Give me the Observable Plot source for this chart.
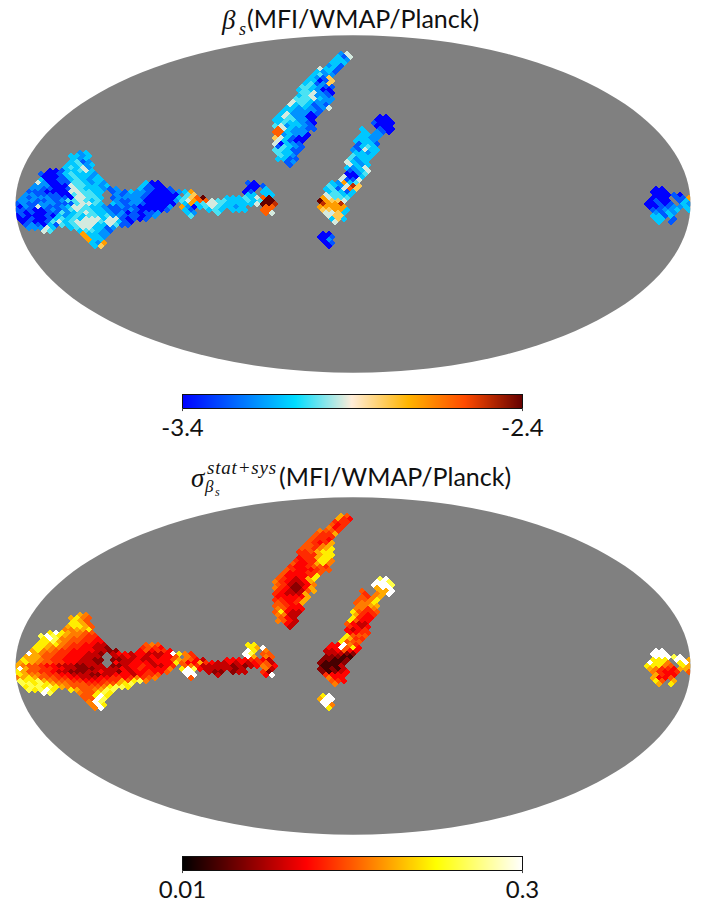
<!DOCTYPE html>
<html>
<head>
<meta charset="utf-8">
<script src="https://cdn.jsdelivr.net/npm/d3@7"></script>
<script src="https://cdn.jsdelivr.net/npm/@observablehq/plot@0.6"></script>
<style>
html,body{margin:0;padding:0;background:#fff;width:707px;height:902px;overflow:hidden}
#page{position:relative;width:707px;height:902px;font-family:Lato,"Noto Sans",sans-serif;color:#111}
#page svg{position:absolute;background:transparent}
.title{position:absolute;font-size:25px;line-height:30px;white-space:nowrap}
.s{position:absolute;font-family:"Liberation Serif",serif;font-style:italic;line-height:1;white-space:nowrap}
</style>
</head>
<body>
<div id="page">
  <span class="s" style="left:222px;top:7px;font-size:27px">β</span>
  <span class="s" style="left:239px;top:20px;font-size:18px">s</span>
  <div class="title" style="left:247px;top:3px">(MFI/WMAP/Planck)</div>
  <div class="title" style="left:279px;top:461px">(MFI/WMAP/Planck)</div>
  <span class="s" style="left:191px;top:465px;font-size:27px">σ</span>
  <span class="s" style="left:207px;top:458px;font-size:19px;letter-spacing:.8px">stat+sys</span>
  <span class="s" style="left:205px;top:478px;font-size:17px">β</span>
  <span class="s" style="left:215px;top:486px;font-size:12px">s</span>
</div>
<script>
// Sky cells: [ring, column, beta codes, sigma codes]
const mainBlob = [
[17,-46,"23","76"],[16,-47,"3323","7865"],[15,-47,"323","875"],[14,-47,"3412","8875"],
[13,-48,"33423","78875"],[12,-48,"34352","66778"],[11,-51,"00133453","8a876655"],
[10,-52,"1001343332","9a98766544"],[9,-52,"0001343323","8a96655443"],
[8,-52,"30011343233","88976554433"],[7,-53,"520011443232","887865443322"],[7,-35,"300","565"],
[6,-53,"2220005443323","8876654433221"],[6,-35,"3100","4543"],
[5,-54,"221100154333212","786654433332211"],[5,-36,"311001","353443"],
[4,-54,"1110000554433","a765544333221"],[4,-40,"121322100012","2332332223a8"],
[3,-55,"2211110045443","7775544333222"],[3,-40,"21222100000","22323232335"],
[2,-55,"21222111055443","87765443332211"],[2,-40,"122221000003","112232233357"],
[1,-56,"22211212445434","78765544332221"],[1,-40,"2112200000","3223332333"],[1,-30,"24","85"],
[0,-56,"121122211145543","765543322211222"],[0,-40,"32122100000","11233432234"],
[-1,-56,"02152112355433211211000002","a7554433221112222323433336"],
[-2,-56,"11100121245443321112100001","87554432211122322132334335"],
[-3,-56,"101001142345433212010112","876654433222112233323445"],
[-4,-56,"010001032343443422111012","678755544332223344346456"],
[-5,-56,"0010013434355535510101","9889765554433344475896"],
[-6,-55,"0100145345555455310","9989876655544455789"],
[-7,-55,"121031434555335411","899898765555568998"],
[-8,-54,"22253","989a8"],[-8,-47,"34553312","87556799"],
[-9,-52,"54","a9"],[-9,-46,"344321","655898"],
[-10,-45,"73322","558a8"],[-11,-45,"7332","55a9"],[-12,-44,"733","6a9"],
[-13,-44,"327","6a8"],[-14,-43,"36","6a"]
];
const tail = [
[7,-18,"10","88"],[6,-17,"001","87a"],[5,-18,"00","a8"],[5,-15,"3","6"],
[4,-28,"37","64"],[4,-18,"01","a9"],[4,-15,"33","55"],
[3,-28,"46","64"],[3,-18,"33","a7"],[3,-15,"33","65"],
[2,-28,"468a","6532"],[2,-21,"3334358a","33334432"],
[1,-28,"5788544333434aa","337432232323452"],
[0,-28,"3734554333335aa9","5642222212123653"],
[-1,-29,"72034543323","8a932222212"],[-1,-15,"88","62"],
[-2,-28,"31","aa"],[-2,-24,"343","211"],[-2,-20,"333","122"],[-2,-15,"88","41"],
[-3,-28,"32","aa"],[-3,-23,"4","2"],[-3,-15,"85","3a"],[-4,-27,"4","5"]
];
const northStreak = [
[50,-2,"25","75"],[49,-3,"315","743"],[48,-3,"332","444"],[47,-4,"333","534"],[46,-4,"231","634"],
[45,-6,"5331","6554"],[44,-6,"3231","5447"],[43,-7,"3422","5444"],[42,-7,"3216","5443"],
[41,-8,"33016","54347"],[40,-8,"34126","55467"],[39,-9,"443211","554678"],[38,-9,"343200","445788"],
[37,-9,"445210","444788"],[36,-9,"345221","344788"],[35,-10,"4445322","4344886"],
[34,-10,"5443222","5334786"],[33,-11,"5343121","4334554"],[32,-11,"33232125","54333455"],
[31,-12,"3322221","5333445"],[30,-12,"3522201","5333348"],[29,-13,"3542200","5432378"],
[28,-13,"3344220","6432237"],[27,-13,"3433210","5421236"],[26,-13,"4523321","6431137"],
[25,-13,"8532211","4321257"],[24,-13,"883222","432227"],[23,-13,"823220","333337"],
[22,-13,"653100","443347"],[21,-13,"53100","54347"],[20,-13,"50321","55433"],
[19,-13,"14321","65333"],[18,-13,"44311","58322"],[17,-13,"4331","6622"],[16,-12,"432","532"],
[15,-13,"3311","6532"],[14,-11,"12","32"],[13,-11,"1","2"]
];
const southStreak = [
[29,4,"00","9a"],[28,4,"000","aa9"],[27,3,"1000","aaa9"],[26,4,"000","7aa"],
[25,1,"3","5"],[25,4,"100","77a"],[24,2,"3","4"],[24,4,"210","67a"],
[23,1,"3322","5467"],[22,1,"3322","5568"],[21,0,"3332","5668"],[20,1,"1331","6677"],
[19,0,"1343","6646"],[18,0,"21533","85445"],[17,0,"3323","7434"],[16,0,"4333","8433"],
[15,-1,"4233","8533"],[14,-1,"5323","5322"],[13,-1,"5323","4323"],[12,-1,"3235","3234"],
[11,-1,"1235","3344"],[10,-1,"0024","8555"],[9,-2,"5003","8744"],[8,-2,"5115","8555"],
[7,-4,"32734","33a64"],[6,-4,"432596","33a583"],[5,-5,"341586","223533"],[4,-4,"34313","22211"],
[3,-5,"54433","11100"],[2,-5,"75444","11001"],[1,-6,"a7665","10001"],[0,-5,"9779","0002"],
[-1,-6,"77777","10102"],[-2,-5,"66773","10123"],[-3,-5,"5563","4333"],[-4,-4,"566","633"],
[-5,-4,"363","543"],[-6,-3,"5","6"]
];
const southKnot = [
[-10,-5,"00","8a"],[-11,-6,"001","7aa"],[-12,-5,"02","aa"],[-13,-5,"01","a6"],[-14,-4,"0","8"]
];
const eastPatch = [
[5,50,"00","aa"],[4,50,"000","aaa"],[3,50,"000","aaa"],[3,53,"10","9a"],
[2,50,"000","888"],[2,54,"11","aa"],[2,56,"7","7"],[1,49,"0100","a886"],[1,54,"13","8a"],
[0,49,"00101","88865"],[0,55,"32","87"],[-1,49,"00112","76443"],[-1,54,"23","77"],
[-2,50,"11223","64334"],[-2,56,"3","5"],[-3,50,"2132","7433"],[-4,50,"3313","7335"],
[-5,50,"33","85"],[-5,53,"1","7"],[-6,51,"3","7"],[-6,53,"1","8"],[-6,56,"1","7"]
];
const regions = [mainBlob, tail, northStreak, southStreak, southKnot, eastPatch];

// Value read for each code
const betaLevels = [-3.4,-3.27,-3.18,-3.1,-3.02,-2.93,-2.8,-2.7,-2.6,-2.5,-2.4];
const sigmaLevels = [0.014,0.0197,0.026,0.035,0.0431,0.053,0.0651,0.0822,0.116,0.162,0.3];

const betaDomain = [-3.4,-2.4];
const sigmaDomain = [0.01,0.3];
const betaStops = [0,0.332,0.498,0.664,0.83,1];
const betaColors = ["#0000ff","#00ddff","#ffedd9","#ffb400","#ff4b00","#640000"];
const sigmaStops = [0,0.365,0.746,1];
const sigmaColors = ["#000000","#ff0000","#ffff00","#ffffff"];

const gray = "#808080";
const scale = 119.32, W = 707, H = 358;
const pxPerCol = 6, pxPerRing = 3;

function mollweideRaw(l, p) {
  if (Math.abs(Math.abs(p) - Math.PI/2) < 1e-9) return [0, Math.SQRT2 * Math.sign(p)];
  let t = p; const k = Math.PI * Math.sin(p);
  for (let i = 0; i < 40; i++) {
    const d = (2*t + Math.sin(2*t) - k) / (2 + 2*Math.cos(2*t));
    t -= d; if (Math.abs(d) < 1e-10) break;
  }
  return [2*Math.SQRT2/Math.PI * l * Math.cos(t), Math.SQRT2 * Math.sin(t)];
}
function skyOf(ring, col) {
  const X = (col + (Math.abs(ring) % 2 ? 0.5 : 0)) * pxPerCol / scale;
  const Y = ring * pxPerRing / scale;
  const t = Math.asin(Y / Math.SQRT2);
  const lat = Math.asin((2*t + Math.sin(2*t)) / Math.PI);
  const lon = Math.PI * X / (2*Math.SQRT2*Math.cos(t));
  return [lon*180/Math.PI, lat*180/Math.PI];
}
function cellsOf(codeIndex, levels) {
  const out = [];
  for (const region of regions) for (const row of region) {
    [...row[codeIndex]].forEach((ch, i) => {
      const [lon, lat] = skyOf(row[0], row[1] + i);
      if (Math.abs(lon) < 180) out.push({lon, lat, v: levels[parseInt(ch, 16)]});
    });
  }
  return out;
}
const diamond = {draw(c, size) {
  const r = Math.sqrt(size / Math.PI);
  c.moveTo(0,-r); c.lineTo(r,0); c.lineTo(0,r); c.lineTo(-r,0); c.closePath();
}};
const ramp = (stops, colors) => d3.scaleLinear().domain(stops).range(colors).interpolate(d3.interpolateRgb);
const betaRamp = ramp(betaStops, betaColors);
const sigmaRamp = ramp(sigmaStops, sigmaColors);
const betaColor = {type:"linear", domain:betaDomain, interpolate:t => betaRamp(t)};
const sigmaColor = {type:"log", domain:sigmaDomain, interpolate:t => sigmaRamp(t)};

function mapPanel(data, color, cy, top) {
  const projection = d3.geoProjection(mollweideRaw).scale(scale).translate([352.5, cy]).precision(0.1);
  const svg = Plot.plot({
    width:W, height:H, margin:0, projection, color,
    marks:[
      Plot.sphere({fill:gray, stroke:"none"}),
      Plot.dot(data, {x:"lon", y:"lat", r:3.1, symbol:diamond, fill:"v", clip:"sphere", shapeRendering:"crispEdges"})
    ]
  });
  svg.style.top = top + "px";
  svg.style.left = "0px";
  return svg;
}
function colorBar(stops, domain, color, labels, top, type) {
  const svg = Plot.plot({
    width:W, height:52, marginLeft:182, marginRight:185, marginTop:1, marginBottom:37, color,
    x:{type, domain, axis:null},
    y:{domain:[0,1], axis:null},
    marks:[
      Plot.rect(d3.pairs(stops), {x1:d=>d[0], x2:d=>d[1], y1:0, y2:1, fill:d=>d[0], shapeRendering:"crispEdges"}),
      Plot.frame({stroke:"#111", strokeWidth:1}),
      Plot.ruleX(domain, {y1:0, y2:-0.22, stroke:"#444"}),
      Plot.text(domain, {x:d=>d, frameAnchor:"bottom", dy:27, text:(d,i)=>labels[i], fontSize:24, fontFamily:"Lato,'Noto Sans',sans-serif", fill:"#111", lineAnchor:"bottom"})
    ]
  });
  svg.style.top = top + "px";
  svg.style.left = "0px";
  return svg;
}
const page = document.getElementById("page");
const nSteps = 340;
const betaSteps = d3.range(nSteps + 1).map(i => -3.4 + i/nSteps);
const sigmaSteps = d3.range(nSteps + 1).map(i => 0.01 * Math.pow(30, i/nSteps));
page.append(
  mapPanel(cellsOf(2, betaLevels), betaColor, 173.5, 30),
  colorBar(betaSteps, betaDomain, betaColor, ["-3.4","-2.4"], 393, "linear"),
  mapPanel(cellsOf(3, sigmaLevels), sigmaColor, 173.5, 492),
  colorBar(sigmaSteps, sigmaDomain, sigmaColor, ["0.01","0.3"], 855, "log")
);
</script>
</body>
</html>
